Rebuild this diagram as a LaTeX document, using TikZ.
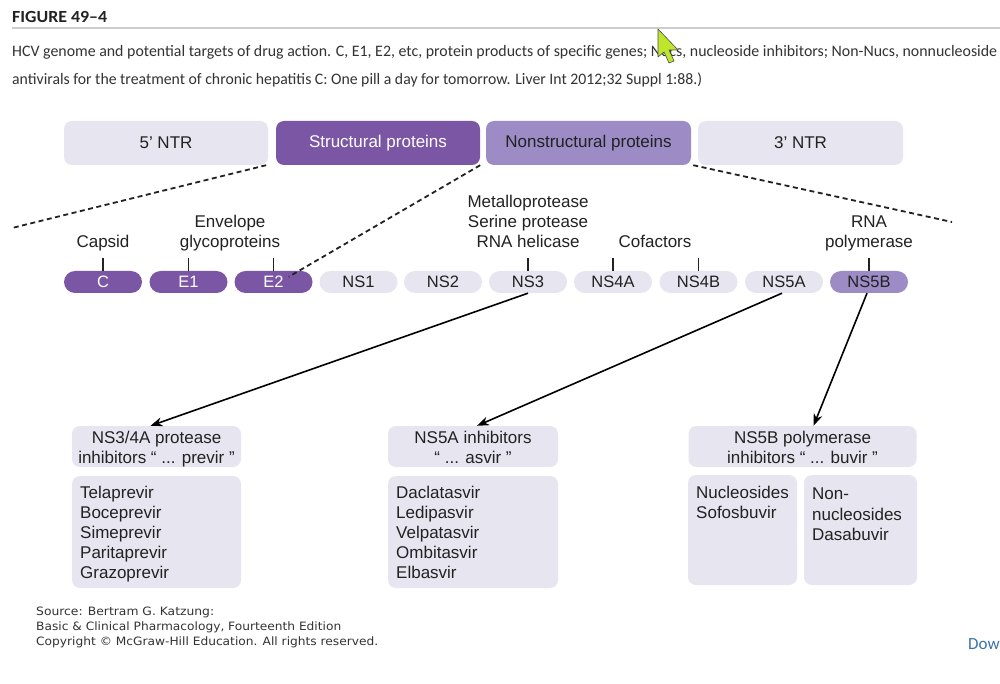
\documentclass[tikz,border=0pt]{standalone}
\usepackage{fontspec}
\usepackage{graphicx}
\setmainfont{Liberation Sans}
\newfontfamily\capfont{Carlito}
\newfontfamily\srcfont{DejaVu Sans}
\usetikzlibrary{arrows.meta}
\definecolor{lightbox}{HTML}{E6E5F0}
\definecolor{darkpurple}{HTML}{7B56A5}
\definecolor{midpurple}{HTML}{9C8BC5}
\definecolor{txt}{HTML}{222222}
\definecolor{captxt}{HTML}{333333}
\definecolor{rulegray}{HTML}{CCCCCC}
\definecolor{linkblue}{HTML}{3A72A8}
\definecolor{cursorgreen}{HTML}{BFE62A}
\tikzset{
  bar/.style={rounded corners=8pt, minimum height=44pt, inner sep=0pt,
    font=\fontsize{17}{20}\selectfont, text=txt},
  pill/.style={rounded corners=11pt, minimum width=78pt, minimum height=22pt,
    inner sep=0pt, font=\fontsize{16.5}{18}\selectfont, text=txt, fill=lightbox},
  pilldark/.style={pill, fill=darkpurple, text=white},
  pillmid/.style={pill, fill=midpurple},
  lbl/.style={anchor=base, inner sep=0pt, font=\fontsize{17}{20}\selectfont, text=txt},
  lbll/.style={lbl, anchor=base west},
  tickline/.style={line width=1.2pt, draw=txt},
  dashline/.style={line width=1.8pt, draw=txt, dash pattern=on 5pt off 3.5pt},
  arr/.style={line width=1.6pt, draw=black, -{Stealth[length=12pt,width=9pt]}},
  panel/.style={rounded corners=8pt, fill=lightbox, draw=none},
  captext/.style={anchor=base west, inner sep=0pt, text=captxt},
  srctext/.style={anchor=base west, inner sep=0pt, text=captxt, font=\srcfont\fontsize{11.5}{13}\selectfont}
}
\begin{document}
\begin{tikzpicture}[x=1pt,y=-1pt]
\useasboundingbox[fill=white] (0,0) rectangle (1000,684);

% header
\node[captext, text=txt, font=\capfont\bfseries\fontsize{17}{18}\selectfont] (fig) at (12,23) {\resizebox{95pt}{\height}{FIGURE 49–4}};
\draw[rulegray, line width=1.2pt] (12,28) -- (1000,28);
\node[captext, font=\capfont\fontsize{16}{18}\selectfont] (cap1) at (12,57) {\resizebox{985pt}{\height}{HCV genome and potential targets of drug action. C, E1, E2, etc, protein products of specific genes; Nucs, nucleoside inhibitors; Non-Nucs, nonnucleoside}};
\node[captext, font=\capfont\fontsize{16}{18}\selectfont] (cap2) at (12,85) {\resizebox{690pt}{\height}{antivirals for the treatment of chronic hepatitis C: One pill a day for tomorrow. Liver Int 2012;32 Suppl 1:88.)}};

% top bars
\node[bar, fill=lightbox, minimum width=204pt] (ntr5) at (166,143) {5’ NTR};
\node[bar, fill=darkpurple, text=white, minimum width=204pt] (struct) at (378,143) {Structural proteins};
\node[bar, fill=midpurple, minimum width=205pt] (nonstruct) at (588.5,143) {Nonstructural proteins};
\node[bar, fill=lightbox, minimum width=205pt] (ntr3) at (800.5,143) {3’ NTR};

% protein pills
\node[pilldark] (C) at (103,282) {C};
\node[pilldark] (E1) at (188.5,282) {E1};
\node[pilldark] (E2) at (273.5,282) {E2};
\node[pill] (NS1) at (358.5,282) {NS1};
\node[pill] (NS2) at (443,282) {NS2};
\node[pill] (NS3) at (528,282) {NS3};
\node[pill] (NS4A) at (613,282) {NS4A};
\node[pill] (NS4B) at (698.5,282) {NS4B};
\node[pill] (NS5A) at (784,282) {NS5A};
\node[pillmid] (NS5B) at (869,282) {NS5B};

% ticks
\foreach \p in {C,E1,E2,NS3,NS4A,NS4B,NS5B}{
  \draw[tickline] (\p.north) -- ++(0,-13);
}

% labels above
\node[lbl] (capsid) at (103,248) {Capsid};
\node[lbl] (env1) at (230,228) {Envelope};
\node[lbl] (env2) at (230,248) {glycoproteins};
\node[lbl] (met1) at (528,208) {Metalloprotease};
\node[lbl] (met2) at (528,228) {Serine protease};
\node[lbl] (met3) at (528,248) {RNA helicase};
\node[lbl] (cof) at (655,248) {Cofactors};
\node[lbl] (rna1) at (869,228) {RNA};
\node[lbl] (rna2) at (869,248) {polymerase};

% dashed zoom lines
\coordinate (dl) at (12,228);
\coordinate (dr) at (952,222);
\draw[dashline] ([xshift=-2pt]ntr5.south east) -- (dl);
\draw[dashline] (struct.south east) -- ([xshift=-24pt,yshift=-6pt]E2.north east);
\draw[dashline] ([xshift=2pt]nonstruct.south east) -- (dr);

% lower panels
\node[panel, minimum width=169pt, minimum height=41pt, inner sep=0pt] (h34) at (156.5,446.5) {};
\node[lbl] (h34a) at (156.5,443) {NS3/4A protease};
\node[lbl] (h34b) at (156.5,463) {inhibitors “ ... previr ”};
\node[panel, minimum width=169pt, minimum height=112pt, inner sep=0pt] (l34) at (156.5,532) {};
\node[lbll] (d1) at (80,498) {Telaprevir};
\node[lbll] (d2) at (80,518) {Boceprevir};
\node[lbll] (d3) at (80,538) {Simeprevir};
\node[lbll] (d4) at (80,558) {Paritaprevir};
\node[lbll] (d5) at (80,578) {Grazoprevir};

\node[panel, minimum width=170pt, minimum height=41pt, inner sep=0pt] (h5a) at (473,446.5) {};
\node[lbl] (h5aa) at (473,443) {NS5A inhibitors};
\node[lbl] (h5ab) at (473,463) {“ ... asvir ”};
\node[panel, minimum width=170pt, minimum height=112pt, inner sep=0pt] (l5a) at (473,532) {};
\node[lbll] (a1) at (396,498) {Daclatasvir};
\node[lbll] (a2) at (396,518) {Ledipasvir};
\node[lbll] (a3) at (396,538) {Velpatasvir};
\node[lbll] (a4) at (396,558) {Ombitasvir};
\node[lbll] (a5) at (396,578) {Elbasvir};

\node[panel, minimum width=228pt, minimum height=41pt, inner sep=0pt] (h5b) at (802.5,446.5) {};
\node[lbl] (h5ba) at (802.5,443) {NS5B polymerase};
\node[lbl] (h5bb) at (802.5,463) {inhibitors “ ... buvir ”};
\node[panel, minimum width=109pt, minimum height=110pt, inner sep=0pt] (nuc) at (742.5,530) {};
\node[lbll] (n1) at (696,498) {Nucleosides};
\node[lbll] (n2) at (696,518) {Sofosbuvir};
\node[panel, minimum width=113pt, minimum height=110pt, inner sep=0pt] (nonnuc) at (860.5,530) {};
\node[lbll] (m1) at (812,499) {Non-};
\node[lbll] (m2) at (812,520) {nucleosides};
\node[lbll] (m3) at (812,540) {Dasabuvir};

% arrows
\draw[arr] (NS3.south) -- ([xshift=-6pt]h34.north);
\draw[arr] ([xshift=-2pt]NS5A.south) -- ([xshift=4pt]h5a.north);
\draw[arr] ([xshift=-2pt]NS5B.south) -- ([xshift=11pt]h5b.north);

% source
\node[srctext] (s1) at (36,615) {\resizebox{178pt}{\height}{Source: Bertram G. Katzung:}};
\node[srctext] (s2) at (36,630) {\resizebox{305pt}{\height}{Basic \& Clinical Pharmacology, Fourteenth Edition}};
\node[srctext] (s3) at (36,645) {\resizebox{342pt}{\height}{Copyright © McGraw-Hill Education. All rights reserved.}};

% link
\node[captext, text=linkblue, font=\capfont\fontsize{17}{20}\selectfont] (dow) at (968,649) {Dow};

% cursor
\filldraw[fill=cursorgreen, draw=black!70, line width=0.6pt, line join=round]
  (658,29) -- (658,57) -- (664,52) -- (669,63) -- (674,61) -- (669,50) -- (678,50) -- cycle;
\end{tikzpicture}
\end{document}
